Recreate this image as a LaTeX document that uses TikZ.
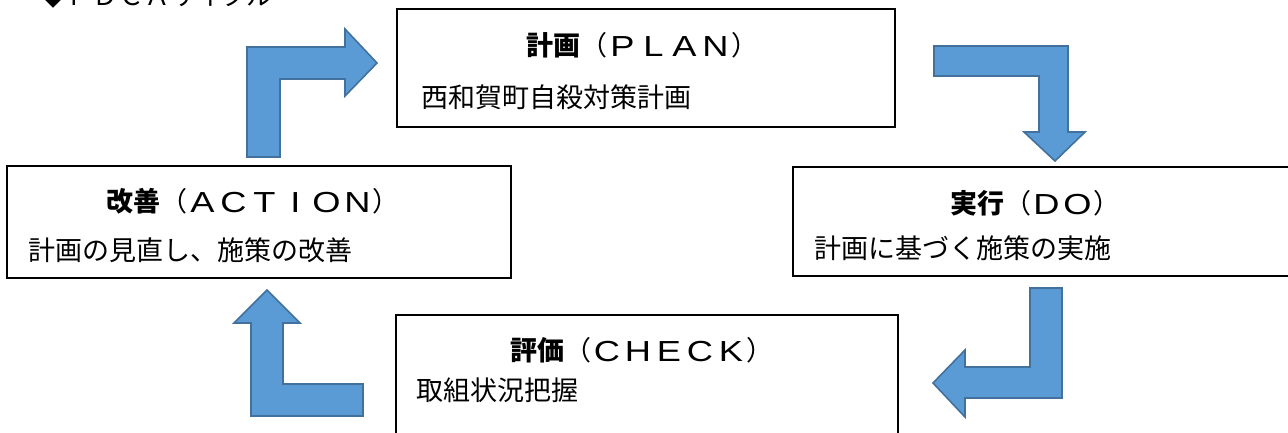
\documentclass[tikz,border=0pt]{standalone}
\usepackage{fontspec}
\usepackage{graphicx}
\newfontfamily\cjk{Noto Sans CJK JP}
\newfontfamily\latn{Liberation Sans}
\definecolor{arrfill}{HTML}{5B9BD5}
\definecolor{arrdraw}{HTML}{41719C}
\newcommand\fl[1]{\makebox[31pt]{\raisebox{-1.5pt}{\scalebox{1.25}[1]{\latn\fontsize{29}{29}\selectfont #1}}}}
\begin{document}
\begin{tikzpicture}[x=1pt,y=-1pt,
  box/.style={draw=black,line width=1.1pt,rectangle,inner sep=0pt,fill=white},
  ttl/.style={font=\cjk\fontsize{27}{27}\selectfont,inner sep=0pt},
  sub/.style={font=\cjk\fontsize{27}{27}\selectfont,inner sep=0pt,anchor=west},
  blockarrow/.style={fill=arrfill,draw=arrdraw,line width=1.6pt,line join=miter}]
\useasboundingbox (0,0) rectangle (1288,432);
\clip (0,0) rectangle (1288,432);
\fill[white] (0,0) rectangle (1288,432);
% heading (cut at top)
\node[font=\cjk\fontsize{26}{26}\selectfont,inner sep=0pt,anchor=base west] (heading) at (40,5) {◆ＰＤＣＡサイクル};
% boxes
\node[box,minimum width=498pt,minimum height=118pt] (plan) at (646,68) {};
\node[box,minimum width=504pt,minimum height=112pt] (action) at (259,222) {};
\node[box,minimum width=510pt,minimum height=109pt] (do) at (1048,221.5) {};
\node[box,minimum width=502pt,minimum height=130pt] (check) at (647,380) {};
% titles
\node[ttl] (plant) at (642,45) {\textbf{計画}（\fl{P}\fl{L}\fl{A}\fl{N}）};
\node[ttl] (actiont) at (253,201) {\textbf{改善}（\fl{A}\fl{C}\fl{T}\fl{I}\fl{O}\fl{N}）};
\node[ttl] (dot) at (1035,203) {\textbf{実行}（\fl{D}\fl{O}）};
\node[ttl] (checkt) at (642,350) {\textbf{評価}（\fl{C}\fl{H}\fl{E}\fl{C}\fl{K}）};
% subtitles
\node[sub] (plans) at (421,97) {西和賀町自殺対策計画};
\node[sub] (actions) at (28,250) {計画の見直し、施策の改善};
\node[sub] (dos) at (814,248) {計画に基づく施策の実施};
\node[sub] (checks) at (416,390) {取組状況把握};
% block arrows
\draw[blockarrow] (247,157) -- (247,47) -- (345,47) -- (345,29) -- (377,63) -- (345,96) -- (345,79) -- (280,79) -- (280,157) -- cycle;
\draw[blockarrow] (934,46) -- (1068,46) -- (1068,132) -- (1085,132) -- (1055,161) -- (1024,132) -- (1039,132) -- (1039,76) -- (934,76) -- cycle;
\draw[blockarrow] (1030,288) -- (1062,288) -- (1062,398) -- (965,398) -- (965,417) -- (933,383) -- (965,350) -- (965,367) -- (1030,367) -- cycle;
\draw[blockarrow] (363,384) -- (363,416) -- (251,416) -- (251,323) -- (234,323) -- (267,290) -- (300,323) -- (283,323) -- (283,384) -- cycle;
\end{tikzpicture}
\end{document}
